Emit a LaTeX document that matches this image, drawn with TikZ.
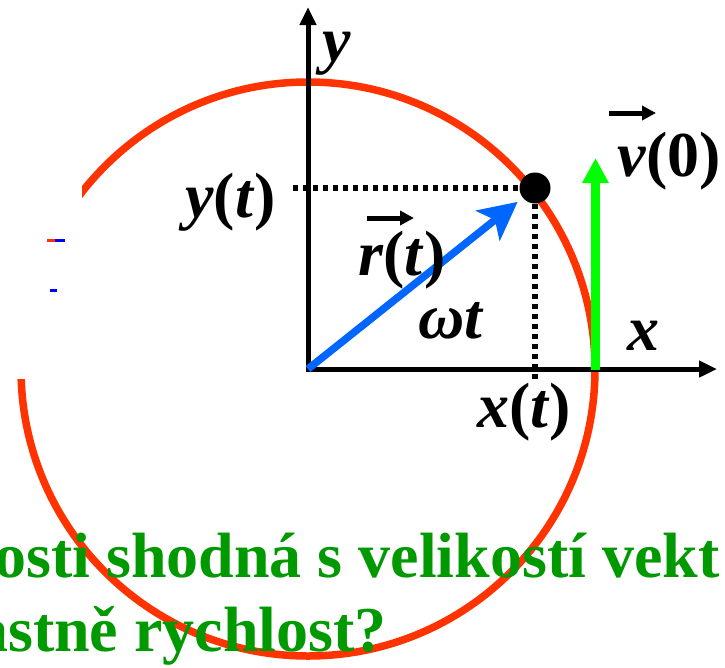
\documentclass[tikz,border=0pt]{standalone}
\usepackage{fontspec}
\setmainfont{Liberation Serif}
\usetikzlibrary{arrows.meta}
\definecolor{circred}{HTML}{FF3300}
\definecolor{vecblue}{HTML}{0066FF}
\definecolor{velgreen}{HTML}{00FF00}
\definecolor{txtgreen}{HTML}{009900}
\begin{document}
\begin{tikzpicture}[x=1pt,y=-1pt,
 lbl/.style={inner sep=0pt, anchor=base west, font=\fontsize{64}{70}\selectfont\bfseries\itshape},
 txt/.style={inner sep=0pt, anchor=base west, text=txtgreen, font=\fontsize{64}{70}\selectfont\bfseries},
 axis/.style={line width=5pt, {Triangle[length=18pt,width=16pt]}-{Triangle[length=18pt,width=16pt]}},
 vecbar/.style={line width=5pt, -{Triangle[length=14pt,width=14pt]}},
 dots/.style={line width=5.5pt, dash pattern=on 5pt off 5pt},
]
\useasboundingbox (0,0) rectangle (725,667);
\coordinate (O) at (308,369);
\draw[circred, line width=7.5pt] (O) circle (287pt);
\fill[white] (-1,150) rectangle (82,379);
\fill[circred] (47,239) rectangle (56,242);
\fill[blue] (55,239) rectangle (65,242);
\fill[blue] (50,289) rectangle (57,292);
\coordinate (ytip) at (308,7);
\coordinate (xtip) at (717,369);
\draw[axis] (ytip) -- (O) -- (xtip);
\coordinate (g0) at (595.5,370);
\coordinate (g1) at (595.5,158);
\draw[velgreen, line width=8.5pt, -{Triangle[length=25pt,width=25pt]}] (g0) -- (g1);
\node[circle, fill=black, minimum size=31pt, inner sep=0pt] (P) at (535,188) {};
\coordinate (yd) at (293,188);
\coordinate (xd) at (535,381);
\draw[dots] (yd) -- (P);
\draw[dots] (P) -- (xd);
\draw[vecblue, line width=7.5pt, -{Stealth[length=38pt,width=38pt,inset=9pt]}, shorten >=6.5pt] (O) -- (P);
\node[lbl] (ylab) at (322,61) {y};
\node[lbl] (xlab) at (627,350) {x};
\node[lbl] (ytl) at (185,217) {y\textup{(}t\textup{)}};
\node[lbl] (rtl) at (358,275) {r\textup{(}t\textup{)}};
\node[lbl] (wtl) at (418,338) {ωt};
\node[lbl] (xtl) at (477,427) {x\textup{(}t\textup{)}};
\node[lbl] (vl) at (617,176) {v\textup{(0)}};
\coordinate (ra) at (367,218);
\coordinate (rb) at (414,218);
\coordinate (va) at (609,113);
\coordinate (vb) at (656,113);
\draw[vecbar] (ra) -- (rb);
\draw[vecbar] (va) -- (vb);
\node[txt] (l1) at (-6,577) {osti shodná s velikostí vekt};
\node[txt] (l2) at (-24,651) {astně rychlost?};
\end{tikzpicture}
\end{document}
